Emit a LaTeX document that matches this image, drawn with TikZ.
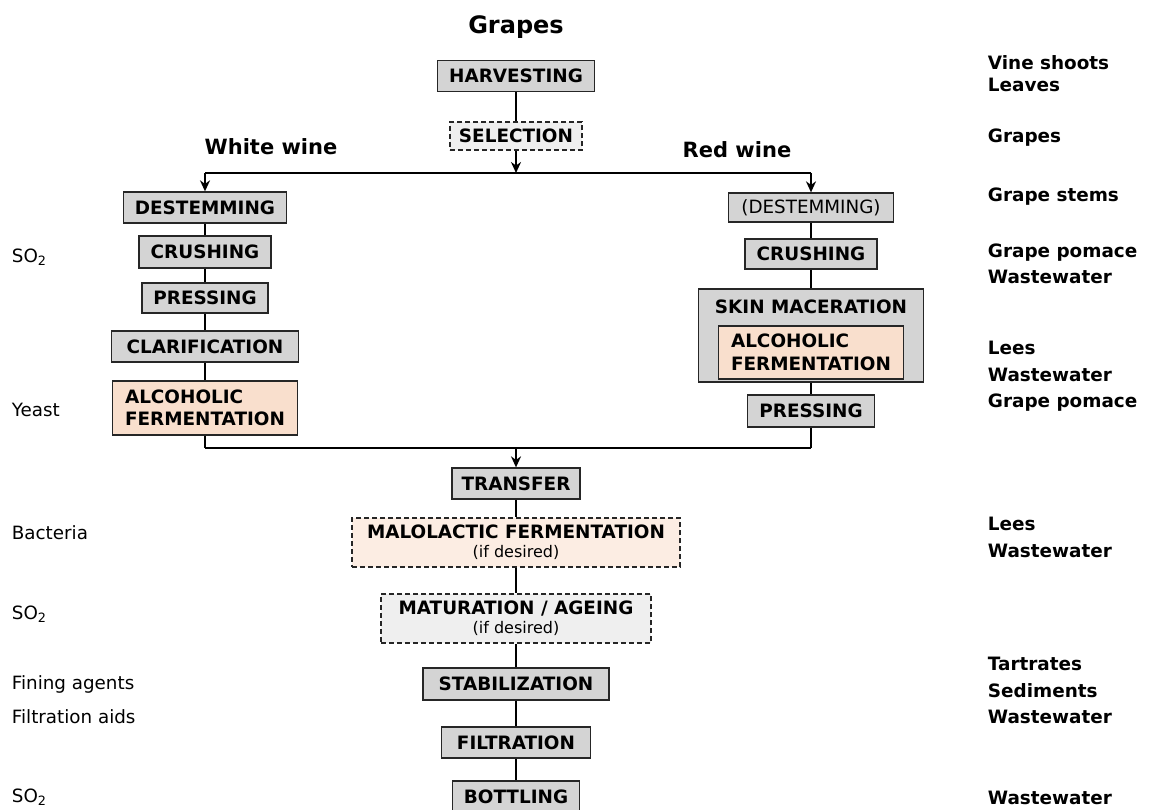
\documentclass[tikz,border=0pt]{standalone}
\usepackage{fontspec}
\setmainfont{DejaVu Sans}
\usetikzlibrary{arrows.meta}

\definecolor{boxgray}{HTML}{D4D4D4}
\definecolor{optgray}{HTML}{EFEFEF}
\definecolor{peach}{HTML}{F9DFCD}
\definecolor{lightpeach}{HTML}{FCEDE3}
\definecolor{edgegray}{HTML}{262626}

\newcommand{\boxfont}{\bfseries\fontsize{18.4}{22}\selectfont}
\newcommand{\notefont}{\fontsize{16}{19}\selectfont}

\begin{document}
\begin{tikzpicture}[
			x = 1pt, y = -1pt, % pixel-like units, y downwards
			> = {Stealth[length=11pt, width=10pt]}, % arrow head style
			line width = 1.8pt, % connector style
			font = \fontsize{18.3}{22}\selectfont
			]
			
			\tikzstyle{proc}=[
			draw = edgegray,
			line width = 1.3pt,
			fill = boxgray,
			minimum height = 31pt,
			inner xsep = 8pt,
			inner ysep = 0pt,
			font = \boxfont
			]
			\tikzstyle{opt}=[proc, dash pattern = on 5pt off 3pt, fill = optgray]
			\tikzstyle{ferm}=[proc, fill = peach, align = left]
			\tikzstyle{wine}=[font = \bfseries\fontsize{21}{24}\selectfont]
			\tikzstyle{waste}=[anchor = west, align = left, inner sep = 0pt, font = \bfseries\fontsize{18.4}{26.5}\selectfont]
			\tikzstyle{input}=[anchor = west, inner sep = 0pt]
			
			\useasboundingbox (0,0) rectangle (1158,810);
			
			% main line
			\node[font = \bfseries\fontsize{24}{28}\selectfont] (qTitle) at (516,27) {Grapes};
			\node[proc, minimum width = 157] (qHarv) at (516,76) {HARVESTING};
			\node[opt, minimum width = 132, minimum height = 28] (qSel) at (516,136) {SELECTION};
			\node[wine] (qWhite) at (271,147) {White wine};
			\node[wine] (qRed) at (737,150) {Red wine};
			
			\coordinate (qSplit) at (516,173);
			\coordinate (qSplitW) at (205,173);
			\coordinate (qSplitR) at (811,173);
			
			% white wine
			\node[proc, minimum width = 163] (qDestW) at (205,207.5) {DESTEMMING};
			\node[proc, minimum width = 132, minimum height = 32] (qCrushW) at (205,252) {CRUSHING};
			\node[proc, minimum width = 126, minimum height = 30] (qPressW) at (205,298) {PRESSING};
			\node[proc, minimum width = 187] (qClar) at (205,346.5) {CLARIFICATION};
			\node[ferm, minimum width = 185, minimum height = 54, font = \bfseries\fontsize{18.4}{22}\selectfont] (qFermW) at (205,408) {ALCOHOLIC\\FERMENTATION};
			
			% red wine
			\node[proc, minimum width = 165, minimum height = 29, font = \fontsize{18.3}{22}\selectfont] (qDestR) at (811,207.5) {(DESTEMMING)};
			\node[proc, minimum width = 132, minimum height = 30] (qCrushR) at (811,254) {CRUSHING};
			\node[proc, minimum width = 225, minimum height = 93] (qSkin) at (811,335.5) {};
			\node[font = \boxfont] (qSkinT) at (811,307) {SKIN MACERATION};
			\node[ferm, minimum width = 185, minimum height = 53, font = \bfseries\fontsize{18.4}{23}\selectfont] (qFermR) at (811,352.5) {ALCOHOLIC\\FERMENTATION};
			\node[proc, minimum width = 127, minimum height = 32] (qPressR) at (811,411) {PRESSING};
			
			\coordinate (qMerge) at (516,448);
			\coordinate (qMergeW) at (205,448);
			\coordinate (qMergeR) at (811,448);
			
			% common part
			\node[proc, minimum width = 128] (qTrans) at (516,483.5) {TRANSFER};
			\node[opt, fill = lightpeach, minimum width = 328, minimum height = 49, align = center, font = \bfseries\fontsize{18.4}{19}\selectfont] (qMalo) at (516,542.5) {MALOLACTIC FERMENTATION\\{\mdseries\notefont (if desired)}};
			\node[opt, minimum width = 270, minimum height = 49, align = center, font = \bfseries\fontsize{18.4}{19}\selectfont] (qMat) at (516,618.5) {MATURATION / AGEING\\{\mdseries\notefont (if desired)}};
			\node[proc, minimum width = 186, minimum height = 32] (qStab) at (516,684) {STABILIZATION};
			\node[proc, minimum width = 149] (qFilt) at (516,742.5) {FILTRATION};
			\node[proc, minimum width = 127] (qBott) at (516,796.5) {BOTTLING};
			
			% inputs
			\node[input] (qSO2a) at (11,257) {SO\textsubscript{2}};
			\node[input] (qYeast) at (11,410) {Yeast};
			\node[input] (qBact) at (11,533) {Bacteria};
			\node[input] (qSO2b) at (11,614) {SO\textsubscript{2}};
			\node[input] (qFining) at (11,684) {Fining agents};
			\node[input] (qFiltAid) at (11,717) {Filtration aids};
			\node[input] (qSO2c) at (11,797) {SO\textsubscript{2}};
			
			% outputs
			\node[waste, font = \bfseries\fontsize{18.4}{22}\selectfont] (qHarvo) at (987,74) {Vine shoots\\Leaves};
			\node[waste] (qSelo) at (987,138) {Grapes};
			\node[waste] (qDesto) at (987,197) {Grape stems};
			\node[waste] (qCrusho) at (987,264) {Grape pomace\\Wastewater};
			\node[waste] (qMaco) at (987,376.5) {Lees\\Wastewater\\Grape pomace};
			\node[waste] (qMaloo) at (987,537.5) {Lees\\Wastewater};
			\node[waste] (qStabo) at (987,690.5) {Tartrates\\Sediments\\Wastewater};
			\node[waste] (qBotto) at (987,798) {Wastewater};
			
			\path[-]
			(qHarv) 	edge (qSel)
			(qSplitW) 	edge (qSplitR)
			(qDestW) 	edge (qCrushW)
			(qCrushW) 	edge (qPressW)
			(qPressW) 	edge (qClar)
			(qClar) 	edge (qFermW)
			(qFermW) 	edge (qMergeW)
			(qMergeW) 	edge (qMergeR)
			(qDestR) 	edge (qCrushR)
			(qCrushR) 	edge (qSkin)
			(qSkin) 	edge (qPressR)
			(qPressR) 	edge (qMergeR)
			(qTrans) 	edge (qMalo)
			(qMalo) 	edge (qMat)
			(qMat) 	edge (qStab)
			(qStab) 	edge (qFilt)
			(qFilt) 	edge (qBott);
			
			\path[->]
			(qSel) 	edge (qSplit)
			(qSplitW) 	edge (qDestW)
			(qSplitR) 	edge (qDestR)
			(qMerge) 	edge (qTrans);
			
		\end{tikzpicture}
\end{document}
